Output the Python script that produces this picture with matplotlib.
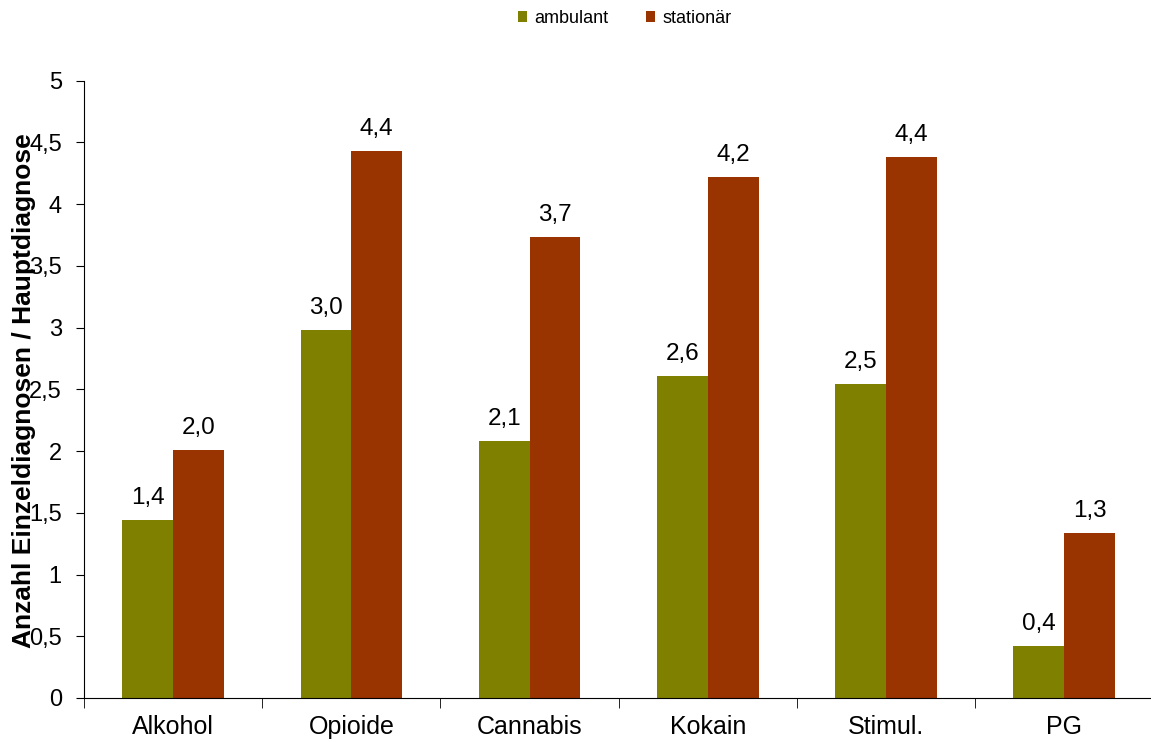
import numpy as np
import matplotlib.pyplot as plt

plt.rcParams['font.family'] = ['Liberation Sans', 'DejaVu Sans']

kategorien = ['Alkohol', 'Opioide', 'Cannabis', 'Kokain', 'Stimul.', 'PG']
ambulant = [1.44, 2.98, 2.08, 2.61, 2.54, 0.42]
stationaer = [2.01, 4.43, 3.73, 4.22, 4.38, 1.34]
y_ticks = [0, 0.5, 1, 1.5, 2, 2.5, 3, 3.5, 4, 4.5, 5]

farbe_amb = '#808000'
farbe_stat = '#993300'


def komma(v):
    return ('%.1f' % v).replace('.', ',')


fig = plt.figure(figsize=(11.51, 7.42), dpi=100)
ax = fig.add_axes([0.073, 0.0593, 0.929, 0.832])

x = np.arange(len(kategorien))
b = 0.285
bars1 = ax.bar(x - b / 2, ambulant, b, color=farbe_amb, label='ambulant')
bars2 = ax.bar(x + b / 2, stationaer, b, color=farbe_stat, label='stationär')

# Werte über den Balken
for bars, werte in ((bars1, ambulant), (bars2, stationaer)):
    for rect, v in zip(bars, werte):
        ax.text(rect.get_x() + rect.get_width() / 2, v + 0.13, komma(v),
                ha='center', va='baseline', fontsize=17.5)

ax.set_xlim(-0.5, len(kategorien) - 0.5)
ax.set_ylim(0, 5)
ax.set_yticks(y_ticks)
ax.set_yticklabels([('%g' % t).replace('.', ',') for t in y_ticks], fontsize=17)
ax.set_xticks(x)
ax.set_xticklabels(kategorien, fontsize=18)
ax.tick_params(axis='x', length=0, pad=12)
ax.set_xticks(np.arange(len(kategorien) + 1) - 0.5, minor=True)
ax.tick_params(axis='x', which='minor', length=7, direction='out')
ax.tick_params(axis='y', length=6, direction='out', pad=10)

for s in ('top', 'right'):
    ax.spines[s].set_visible(False)

# Achsentitel liegt wie im Original über den Tickbeschriftungen
fig.text(0.021, 0.474, 'Anzahl Einzeldiagnosen / Hauptdiagnose', rotation=90,
         ha='center', va='center', fontsize=19, fontweight='bold')

fig.legend(loc='center', bbox_to_anchor=(0.543, 0.975), ncol=2, frameon=False,
           fontsize=13, handlelength=0.5, handleheight=0.5, handletextpad=0.4,
           columnspacing=2.1)

fig.savefig('out.png', dpi=100)
